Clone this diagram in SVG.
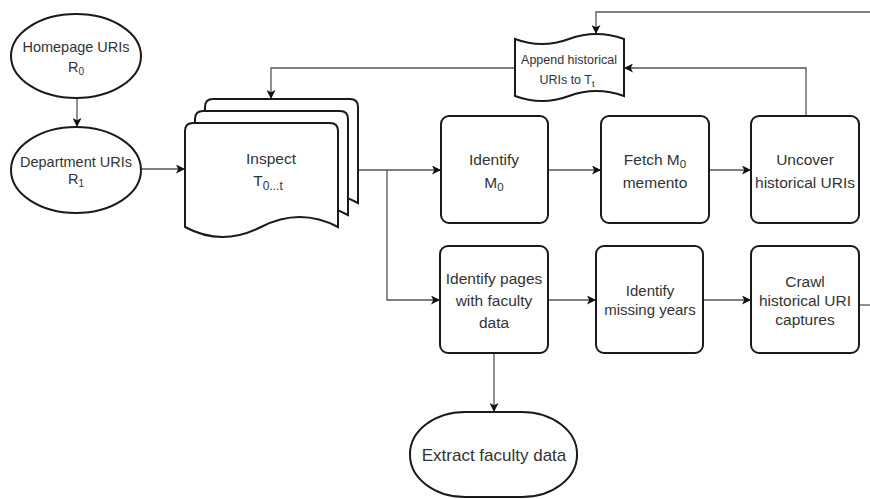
<svg xmlns="http://www.w3.org/2000/svg" width="870" height="499" viewBox="0 0 870 499">
<defs>
<style>
.n{fill:#fff;stroke:#1a1a1a;stroke-width:2}
.c{fill:none;stroke:#555;stroke-width:1.3}
.t{font-family:"Liberation Sans",Arial,sans-serif;fill:#333;text-anchor:middle}
.f14{font-size:14.5px}
.f16{font-size:15.5px}
.f15{font-size:15px}
.f12{font-size:12.5px}
.f17{font-size:17px}
</style>
<marker id="a" viewBox="0 0 10 10" refX="10" refY="5" markerWidth="9" markerHeight="9" markerUnits="userSpaceOnUse" orient="auto">
<path d="M0,0 L10,5 L0,10 L2.5,5 Z" fill="#111"/>
</marker>
<path id="doc" d="M185,131 Q185,123 193,123 L330,123 Q338,123 338,131 L338,227 Q300,207 261,227 T185,227 Z"/>
</defs>

<g id="connectors">
<path class="c" d="M77,98 V127" marker-end="url(#a)"/>
<path class="c" d="M142,169 H185" marker-end="url(#a)"/>
<path class="c" d="M358,170 H441" marker-end="url(#a)"/>
<path class="c" d="M387,170 V300 H440" marker-end="url(#a)"/>
<path class="c" d="M548,170 H601" marker-end="url(#a)"/>
<path class="c" d="M709,170 H751" marker-end="url(#a)"/>
<path class="c" d="M548,300 H596" marker-end="url(#a)"/>
<path class="c" d="M703,300 H751" marker-end="url(#a)"/>
<path class="c" d="M859,305 H870"/>
<path class="c" d="M494,353 V412" marker-end="url(#a)"/>
<path class="c" d="M806,116 V68 H624" marker-end="url(#a)"/>
<path class="c" d="M515,68 H271 V99" marker-end="url(#a)"/>
<path class="c" d="M870,12 H596 V34" marker-end="url(#a)"/>
</g>

<g id="homepage">
<ellipse class="n" cx="76" cy="56" rx="65" ry="42"/>
<text class="t f14" x="76" y="52">Homepage URIs</text>
<text class="t f14" x="76" y="72">R<tspan font-size="10" dy="3">0</tspan></text>
</g>

<g id="department">
<ellipse class="n" cx="76" cy="170" rx="65" ry="43"/>
<text class="t f14" x="76" y="167">Department URIs</text>
<text class="t f14" x="76" y="184">R<tspan font-size="10" dy="3">1</tspan></text>
</g>

<g id="inspect">
<use href="#doc" class="n" transform="translate(20,-24)"/>
<use href="#doc" class="n" transform="translate(10,-12)"/>
<use href="#doc" class="n"/>
<text class="t f16" x="271" y="164">Inspect</text>
<text class="t f16" x="268" y="186">T<tspan font-size="12" dy="4">0...t</tspan></text>
</g>

<g id="append">
<path class="n" d="M515,39 Q542,49 569,39 T624,39 L624,96 Q596,86 569,96 T515,96 Z"/>
<text class="t f12" x="569" y="64">Append historical</text>
<text class="t f12" x="567" y="84">URIs to T<tspan font-size="9.5" dy="3">t</tspan></text>
</g>

<g id="identify-m0">
<rect class="n" x="441" y="116" width="107" height="107" rx="8"/>
<text class="t f16" x="494" y="165">Identify</text>
<text class="t f16" x="494" y="188">M<tspan font-size="11.5" dy="3">0</tspan></text>
</g>

<g id="fetch-m0">
<rect class="n" x="601" y="116" width="108" height="107" rx="8"/>
<text class="t f16" x="655" y="165">Fetch M<tspan font-size="11.5" dy="3">0</tspan></text>
<text class="t f16" x="655" y="188">memento</text>
</g>

<g id="uncover">
<rect class="n" x="751" y="116" width="108" height="107" rx="8"/>
<text class="t f16" x="805" y="165">Uncover</text>
<text class="t f16" x="805" y="188">historical URIs</text>
</g>

<g id="identify-pages">
<rect class="n" x="440" y="246" width="108" height="107" rx="8"/>
<text class="t f16" x="494" y="284">Identify pages</text>
<text class="t f16" x="494" y="306">with faculty</text>
<text class="t f16" x="494" y="328">data</text>
</g>

<g id="missing-years">
<rect class="n" x="596" y="246" width="107" height="107" rx="8"/>
<text class="t f15" x="650" y="296">Identify</text>
<text class="t f15" x="650" y="315">missing years</text>
</g>

<g id="crawl">
<rect class="n" x="751" y="246" width="108" height="107" rx="8"/>
<text class="t f16" x="805" y="287">Crawl</text>
<text class="t f16" x="805" y="306">historical URI</text>
<text class="t f16" x="805" y="325">captures</text>
</g>

<g id="extract">
<rect class="n" x="410" y="412" width="167" height="85" rx="55" ry="42"/>
<text class="t f17" x="494" y="461">Extract faculty data</text>
</g>
</svg>
